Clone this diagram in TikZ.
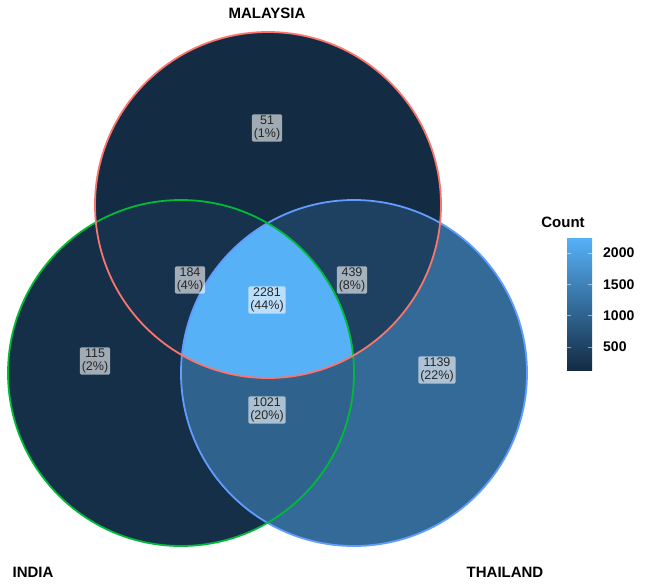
\documentclass[tikz,border=0pt]{standalone}
\usepackage{fontspec}
\setmainfont{Liberation Sans}
\usetikzlibrary{positioning,calc}

\definecolor{cMal}{HTML}{F8766D}
\definecolor{cInd}{HTML}{00BA38}
\definecolor{cTha}{HTML}{619CFF}
\definecolor{fM}{RGB}{19,43,67}
\definecolor{fI}{RGB}{21,47,72}
\definecolor{fT}{RGB}{52,106,152}
\definecolor{fMI}{RGB}{23,50,77}
\definecolor{fMT}{RGB}{31,65,97}
\definecolor{fIT}{RGB}{47,98,141}
\definecolor{fMIT}{RGB}{86,177,247}

\tikzset{
  setlabel/.style={font=\fontsize{15}{17}\selectfont\bfseries},
  countbox/.style={fill=white, fill opacity=0.6, text opacity=1, rounded corners=1.5pt,
    inner xsep=2pt, inner ysep=1.5pt, align=center, text=black!85,
    font=\fontsize{12.5}{13}\selectfont},
  ring/.style={line width=1.8pt},
  ticklabel/.style={anchor=west, inner sep=0pt, font=\fontsize{14}{16}\selectfont\bfseries},
}

\begin{document}
\begin{tikzpicture}[x=1pt,y=-1pt]
		\useasboundingbox (0,0) rectangle (645,586);
		\def\rad{173pt}
		\coordinate (M) at (268,205);
		\coordinate (I) at (181,373);
		\coordinate (T) at (354,373);
		% single sets
		\fill[fM] (M) circle[radius=\rad];
		\fill[fI] (I) circle[radius=\rad];
		\fill[fT] (T) circle[radius=\rad];
		% overlaps
		\begin{scope}
			\clip (I) circle[radius=\rad];
			\fill[fIT] (T) circle[radius=\rad];
		\end{scope}
		\begin{scope}
			\clip (M) circle[radius=\rad];
			\fill[fMI] (I) circle[radius=\rad];
			\fill[fMT] (T) circle[radius=\rad];
			\clip (I) circle[radius=\rad];
			\fill[fMIT] (T) circle[radius=\rad];
		\end{scope}
		% outlines
		\draw[ring, cTha] (T) circle[radius=\rad];
		\draw[ring, cInd] (I) circle[radius=\rad];
		\draw[ring, cMal] (M) circle[radius=\rad];
		% set names
		\node[setlabel] (malaysia) at (267,13) {MALAYSIA};
		\node[setlabel] (india) at (33,572) {INDIA};
		\node[setlabel] (thailand) at (505,572) {THAILAND};
		% counts
		\node[countbox] (nM) at (267,128) {51\\(1\%)};
		\node[countbox] (nMI) at (190,280) {184\\(4\%)};
		\node[countbox] (nMIT) at (267,300) {2281\\(44\%)};
		\node[countbox] (nMT) at (352,280) {439\\(8\%)};
		\node[countbox] (nI) at (95,361) {115\\(2\%)};
		\node[countbox] (nIT) at (267,410) {1021\\(20\%)};
		\node[countbox] (nT) at (437,370) {1139\\(22\%)};
		% legend
		\node[font=\fontsize{15}{17}\selectfont\bfseries] (count) at (563,222) {Count};
		\shade[bottom color=fM, top color=fMIT] (567,238) rectangle (592,370);
		\foreach \v in {500,1000,1500,2000} {
			\pgfmathsetmacro{\yy}{347-(\v-500)*0.0627}
			\draw[white, opacity=0.5, line width=0.5pt] (567,\yy) -- (571,\yy);
			\draw[white, opacity=0.5, line width=0.5pt] (588,\yy) -- (592,\yy);
			\node[ticklabel] (tick\v) at (603,\yy) {\v};
		}
	\end{tikzpicture}
\end{document}
